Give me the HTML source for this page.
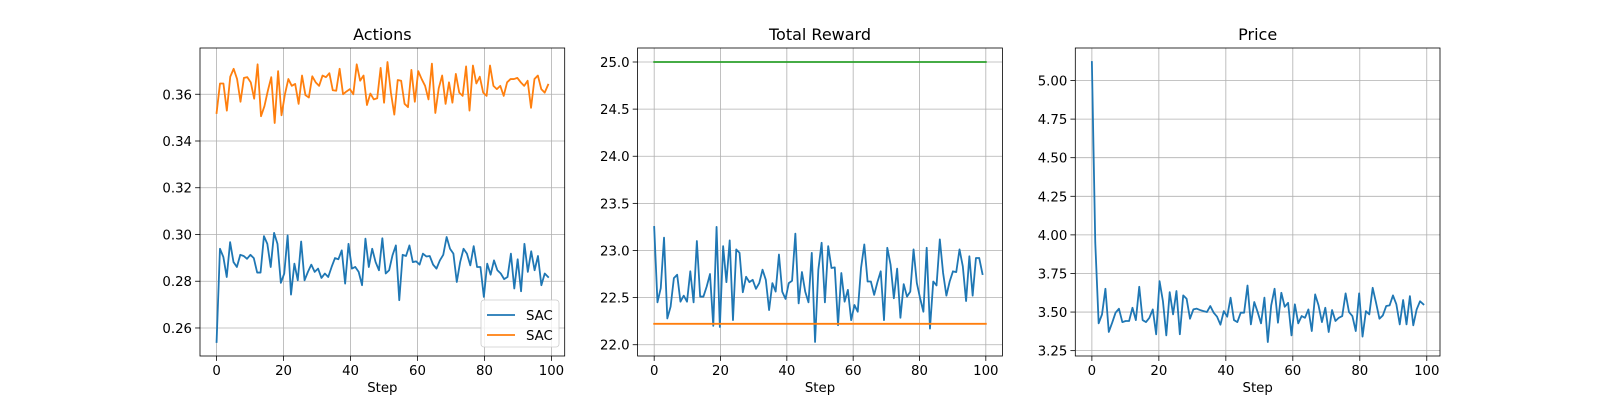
<!DOCTYPE html>
<html><head><meta charset="utf-8"><style>
html,body{margin:0;padding:0;background:#fff;}
svg{display:block;font-family:"DejaVu Sans","Liberation Sans",sans-serif;}
</style></head><body>
<svg id="fig" width="1600" height="400" viewBox="0 0 1600 400" xmlns="http://www.w3.org/2000/svg"></svg>
<script>
const actionsA=[0.254,0.2939,0.2904,0.2818,0.2967,0.2882,0.2861,0.2913,0.2908,0.2896,0.2913,0.2899,0.2837,0.2837,0.2993,0.296,0.2861,0.3007,0.296,0.2793,0.2833,0.2996,0.2743,0.2875,0.2804,0.297,0.2804,0.284,0.2871,0.284,0.2854,0.2814,0.2833,0.2818,0.2861,0.2899,0.2894,0.2932,0.279,0.296,0.2854,0.2861,0.284,0.2783,0.2982,0.2861,0.2939,0.2882,0.2847,0.2984,0.2833,0.2847,0.2911,0.2953,0.2719,0.2913,0.2908,0.2953,0.2882,0.2885,0.2871,0.2918,0.2906,0.2908,0.2871,0.2854,0.2889,0.2913,0.2989,0.2939,0.2918,0.2797,0.2882,0.2939,0.2918,0.2868,0.295,0.2861,0.2861,0.2733,0.2875,0.2828,0.2889,0.2847,0.2833,0.2809,0.2818,0.2918,0.2769,0.2894,0.2757,0.296,0.284,0.2928,0.2847,0.2908,0.2783,0.2833,0.2818];
const actionsB=[0.352,0.3646,0.3646,0.353,0.3675,0.3709,0.3665,0.3568,0.367,0.3673,0.3651,0.3581,0.3728,0.3506,0.3549,0.3615,0.3673,0.3477,0.3699,0.351,0.36,0.3665,0.3636,0.3644,0.3559,0.368,0.3596,0.3586,0.3677,0.3651,0.3636,0.368,0.3673,0.369,0.3617,0.3615,0.3709,0.36,0.3612,0.3622,0.36,0.3728,0.3658,0.368,0.3554,0.3603,0.3578,0.3583,0.3713,0.3564,0.3738,0.3607,0.3513,0.3661,0.3658,0.3559,0.3545,0.3704,0.3568,0.3699,0.3665,0.3636,0.3578,0.3731,0.352,0.3626,0.368,0.3559,0.3651,0.3564,0.3687,0.3607,0.3593,0.3719,0.353,0.3723,0.3646,0.3675,0.3607,0.3593,0.3723,0.3636,0.3622,0.3636,0.3593,0.3651,0.3665,0.3665,0.367,0.3651,0.3636,0.3658,0.3542,0.3665,0.368,0.3622,0.3607,0.3641];
const reward=[23.25,22.45,22.6,23.136,22.279,22.404,22.707,22.743,22.457,22.521,22.457,22.779,22.45,23.1,22.511,22.511,22.618,22.75,22.2,23.25,22.189,23.046,22.664,23.107,22.261,23.011,22.975,22.557,22.721,22.664,22.689,22.593,22.654,22.796,22.689,22.368,22.654,22.564,22.957,22.564,22.486,22.654,22.679,23.179,22.439,22.771,22.564,22.45,22.975,22.029,22.796,23.082,22.45,23.046,22.814,22.821,22.207,22.761,22.457,22.582,22.261,22.421,22.35,22.814,23.064,22.671,22.671,22.529,22.664,22.779,22.261,23.029,22.85,22.493,22.807,22.286,22.643,22.511,22.564,23.011,22.654,22.493,22.35,23.029,22.171,22.671,22.629,23.118,22.761,22.521,22.671,22.779,22.771,23.011,22.832,22.464,22.939,22.521,22.92,22.92,22.75];
const rewardUpper=[25.0,25.0];
const rewardLower=[22.222,22.222];
const refSteps=[0,100];
const price=[5.12,3.95,3.427,3.485,3.651,3.371,3.431,3.496,3.522,3.435,3.442,3.442,3.528,3.448,3.664,3.448,3.435,3.463,3.517,3.356,3.7,3.571,3.349,3.629,3.485,3.636,3.356,3.608,3.586,3.457,3.517,3.522,3.513,3.506,3.5,3.539,3.496,3.47,3.418,3.506,3.47,3.593,3.448,3.435,3.496,3.496,3.672,3.42,3.565,3.5,3.427,3.593,3.306,3.543,3.651,3.431,3.625,3.534,3.56,3.349,3.55,3.427,3.474,3.463,3.517,3.377,3.614,3.543,3.435,3.528,3.371,3.513,3.442,3.463,3.474,3.621,3.5,3.474,3.377,3.621,3.341,3.506,3.485,3.657,3.56,3.457,3.478,3.539,3.543,3.608,3.55,3.42,3.578,3.42,3.603,3.414,3.517,3.57,3.55];
const xTicks=[0,20,40,60,80,100];
const ticks1=["0.26","0.28","0.30","0.32","0.34","0.36"];
const ticks2=["22.0","22.5","23.0","23.5","24.0","24.5","25.0"];
const ticks3=["3.25","3.50","3.75","4.00","4.25","4.50","4.75","5.00"];

const NS="http://www.w3.org/2000/svg";
const svg=document.getElementById('fig');
function mk(tag,attrs,parent){const e=document.createElementNS(NS,tag);for(const k in attrs)e.setAttribute(k,attrs[k]);(parent||svg).appendChild(e);return e;}
const TOP=48,BOT=356;
function steps(arr){return arr.map((v,i)=>i*99/(arr.length-1));}
function lim(all){const mn=Math.min(...all),mx=Math.max(...all),r=mx-mn;return [mn-0.05*r,mx+0.05*r];}

function axes(name,left,right,title,xl,yl,yticks,series){
  const g=mk('g',{});
  
  
  const sx=v=>left+(v-xl[0])/(xl[1]-xl[0])*(right-left);
  const sy=v=>BOT-(v-yl[0])/(yl[1]-yl[0])*(BOT-TOP);
  xTicks.forEach(t=>{const x=sx(t);
    const l=mk('line',{x1:x,x2:x,y1:TOP,y2:BOT,stroke:'#b0b0b0','stroke-width':0.8},g);
    
    mk('line',{x1:x,x2:x,y1:BOT,y2:BOT+4.9,stroke:'#000','stroke-width':0.8},g);
    const tx=mk('text',{x:x,y:BOT+19,'font-size':13.3,'text-anchor':'middle',fill:'#000'},g);
    tx.textContent=t;
    
  });
  yticks.forEach(s=>{const y=sy(parseFloat(s));
    const l=mk('line',{x1:left,x2:right,y1:y,y2:y,stroke:'#b0b0b0','stroke-width':0.8},g);
    
    mk('line',{x1:left-4.9,x2:left,y1:y,y2:y,stroke:'#000','stroke-width':0.8},g);
    const tx=mk('text',{x:left-8,y:y+5,'font-size':13.3,'text-anchor':'end',fill:'#000'},g);
    tx.textContent=s;
    
  });
  series.forEach(s=>{
    const p=mk('polyline',{points:s.y.map((v,i)=>sx(s.x[i])+','+sy(v)).join(' '),fill:'none',stroke:s.c,'stroke-width':1.8,'stroke-linejoin':'round','stroke-linecap':'square'},g);
    
  });
  const fr=mk('rect',{x:left,y:TOP,width:right-left,height:BOT-TOP,fill:'none',stroke:'#000','stroke-width':0.8},g);
  
  const t=mk('text',{x:(left+right)/2,y:TOP-8,'font-size':16,'text-anchor':'middle',fill:'#000'},g);
  t.textContent=title;
  const xlab=mk('text',{x:(left+right)/2,y:BOT+36,'font-size':13.3,'text-anchor':'middle',fill:'#000'},g);
  xlab.textContent='Step';
  return g;
}
const BLUE='#1f77b4',ORANGE='#ff7f0e',GREEN='#2ca02c';
axes('actions-chart',200,564.7,'Actions',[-4.95,103.95],lim(actionsA.concat(actionsB)),ticks1,[
  {x:steps(actionsA),y:actionsA,c:BLUE,name:'actions-series-1'},
  {x:steps(actionsB),y:actionsB,c:ORANGE,name:'actions-series-2'}]);
axes('total-reward-chart',637.6,1002.4,'Total Reward',[-5,105],lim(reward.concat(rewardUpper,rewardLower)),ticks2,[
  {x:steps(reward),y:reward,c:BLUE,name:'reward-series'},
  {x:refSteps,y:rewardLower,c:ORANGE,name:'reward-lower-line'},
  {x:refSteps,y:rewardUpper,c:GREEN,name:'reward-upper-line'}]);
axes('price-chart',1075.3,1440,'Price',[-4.95,103.95],lim(price),ticks3,[
  {x:steps(price),y:price,c:BLUE,name:'price-series'}]);
const lg=mk('g',{});


mk('rect',{x:481,y:300,width:78,height:47,rx:3,fill:'#fff','fill-opacity':0.8,stroke:'#cccccc','stroke-width':0.8},lg);
[[BLUE,'SAC',315],[ORANGE,'SAC',335]].forEach(([c,l,y])=>{
  const e=mk('g',{},lg);
  
  
  mk('line',{x1:487,x2:515,y1:y,y2:y,stroke:c,'stroke-width':1.8},e);
  const t=mk('text',{x:526,y:y+5,'font-size':13.3,fill:'#000'},e);t.textContent=l;
});
</script>
</body></html>
